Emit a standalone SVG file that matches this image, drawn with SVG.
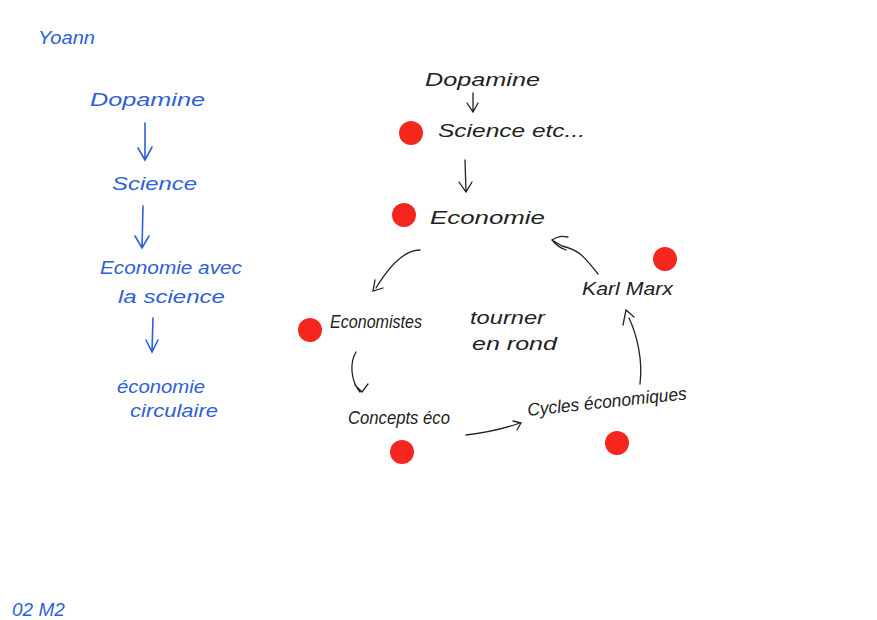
<svg xmlns="http://www.w3.org/2000/svg" width="877" height="620" viewBox="0 0 877 620">
<defs>
<style>
.b{font-family:"Liberation Sans",Arial,sans-serif;font-style:italic;fill:#2f5fd6;font-size:19px}
.k{font-family:"Liberation Sans",Arial,sans-serif;font-style:italic;fill:#222;font-size:18px}
.ab{fill:none;stroke:#2f5fd6;stroke-width:1.6;stroke-linecap:round}
.ak{fill:none;stroke:#222;stroke-width:1.3;stroke-linecap:round}
.dot{fill:#f5261e}
</style>
</defs>
<rect width="877" height="620" fill="#ffffff"/>
<g id="left">
<text id="yoann" class="b" x="38" y="44" font-size="18" textLength="57" lengthAdjust="spacingAndGlyphs">Yoann</text>
<g id="l-dopamine"><text class="b" x="90" y="106" textLength="115" lengthAdjust="spacingAndGlyphs">Dopamine</text></g>
<g id="l-science"><text class="b" x="112" y="190" textLength="85" lengthAdjust="spacingAndGlyphs">Science</text></g>
<g id="l-eco"><text class="b" x="100" y="274" textLength="142" lengthAdjust="spacingAndGlyphs">Economie avec</text><text class="b" x="118" y="303" textLength="107" lengthAdjust="spacingAndGlyphs">la science</text></g>
<g id="l-circ"><text class="b" x="117" y="393" textLength="88" lengthAdjust="spacingAndGlyphs">économie</text><text class="b" x="130" y="417" textLength="88" lengthAdjust="spacingAndGlyphs">circulaire</text></g>
</g>
<g id="right">
<g id="r-dopamine"><text class="k" x="425" y="86" textLength="115" lengthAdjust="spacingAndGlyphs">Dopamine</text></g>
<g id="r-science"><circle class="dot" cx="411" cy="133" r="12"/><text class="k" x="438" y="137" textLength="147" lengthAdjust="spacingAndGlyphs">Science etc...</text></g>
<g id="r-economie"><circle class="dot" cx="404" cy="215" r="12"/><text class="k" x="430" y="224" textLength="115" lengthAdjust="spacingAndGlyphs">Economie</text></g>
<g id="r-marx"><circle class="dot" cx="665" cy="259" r="12"/><text class="k" x="582" y="295" textLength="91" lengthAdjust="spacingAndGlyphs">Karl Marx</text></g>
<g id="r-economistes"><circle class="dot" cx="310" cy="330" r="12"/><text class="k" x="330" y="328" textLength="92" lengthAdjust="spacingAndGlyphs">Economistes</text></g>
<g id="r-tourner"><text class="k" x="470" y="324" textLength="75" lengthAdjust="spacingAndGlyphs">tourner</text><text class="k" x="472" y="350" textLength="85" lengthAdjust="spacingAndGlyphs">en rond</text></g>
<g id="r-concepts"><circle class="dot" cx="402" cy="452" r="12"/><text class="k" x="348" y="424" textLength="102" lengthAdjust="spacingAndGlyphs">Concepts éco</text></g>
<g id="r-cycles"><circle class="dot" cx="617" cy="443" r="12"/><text class="k" x="528" y="416" transform="rotate(-6 528 416)" textLength="160" lengthAdjust="spacingAndGlyphs">Cycles économiques</text></g>
</g>
<g id="connectors">
<path class="ab" d="M145 123 L145 160 M138 148 L145 160 L152 147"/>
<path class="ab" d="M143 206 L142 248 M135 236 L142 248 L149 236"/>
<path class="ab" d="M153 318 L152 352 M146 340 L152 352 L158 340"/>
<path class="ak" d="M473 93 L473 112 M467 103 L473 112 L478 103"/>
<path class="ak" d="M465 160 L466 192 M459 182 L466 192 L472 182"/>
<path class="ak" d="M420 250 C405 250 390 265 376 288 M375 280 L373 291 L383 288"/>
<path class="ak" d="M598 274 C585 258 580 250 562 246 L552 240 M552 240 C558 236 562 236 568 237 M552 240 C557 246 560 248 566 250"/>
<path class="ak" d="M640 384 C643 360 637 335 629 318 M623 325 L626 310 L634 317"/>
<path class="ak" d="M356 352 C350 362 350 380 360 392 M355 385 L362 392 L368 384"/>
<path class="ak" d="M466 435 C482 433 500 430 520 423 M513 421 L521 423 L517 430"/>
</g>
<text class="b" x="12" y="616" font-size="11" fill="#4a6fd8">02 M2</text>
</svg>
